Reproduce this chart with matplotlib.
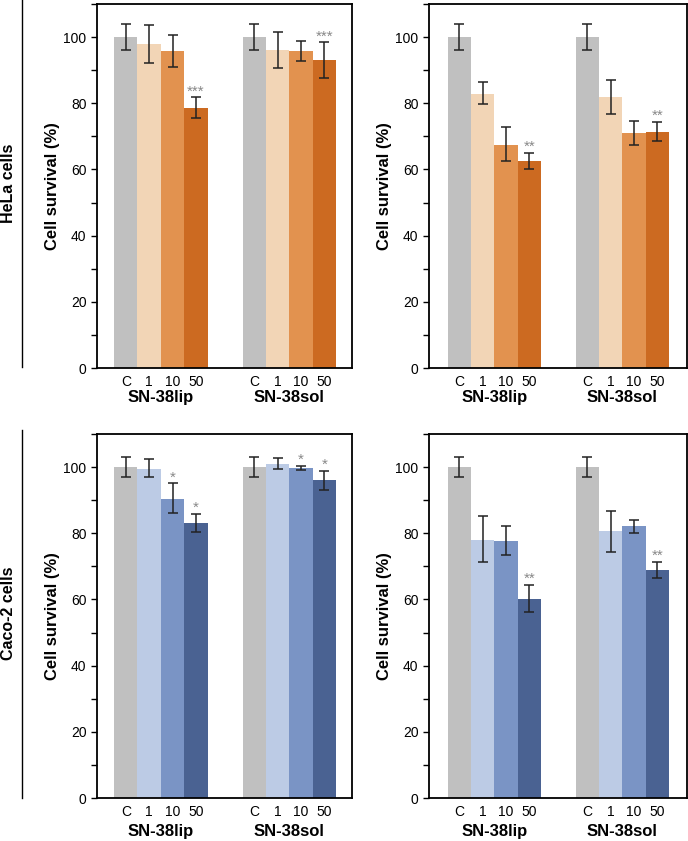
import matplotlib
matplotlib.use("Agg")
import matplotlib.pyplot as plt
from matplotlib.ticker import MultipleLocator

plt.rcParams['font.family'] = ['Liberation Sans', 'DejaVu Sans']

doses = ["C", "1", "10", "50"]
groups = ["SN-38lip", "SN-38sol"]

# HeLa, left panel
hela_a_lip = [100, 97.9, 95.8, 78.7]
hela_a_lip_lo = [96.0, 92.3, 90.9, 75.7]
hela_a_lip_hi = [104.1, 103.6, 100.7, 81.8]
hela_a_sol = [100, 96.0, 95.8, 93.0]
hela_a_sol_lo = [96.0, 90.6, 92.7, 87.5]
hela_a_sol_hi = [104.1, 101.5, 98.9, 98.4]
hela_a_stars = ["", "", "", "***", "", "", "", "***"]

# HeLa, right panel
hela_b_lip = [100, 82.9, 67.5, 62.6]
hela_b_lip_lo = [96.0, 79.7, 62.5, 60.2]
hela_b_lip_hi = [104.1, 86.3, 72.7, 65.0]
hela_b_sol = [100, 81.8, 71.1, 71.4]
hela_b_sol_lo = [96.0, 76.7, 67.5, 68.5]
hela_b_sol_hi = [104.1, 87.1, 74.8, 74.5]
hela_b_stars = ["", "", "", "**", "", "", "", "**"]

# Caco-2, left panel
caco_a_lip = [100, 99.5, 90.4, 83.1]
caco_a_lip_lo = [97.1, 96.9, 86.0, 80.4]
caco_a_lip_hi = [103.1, 102.6, 95.1, 85.8]
caco_a_sol = [100, 101.0, 99.6, 96.0]
caco_a_sol_lo = [97.1, 99.4, 99.0, 93.0]
caco_a_sol_hi = [103.1, 102.8, 100.4, 98.9]
caco_a_stars = ["", "", "*", "*", "", "", "*", "*"]

# Caco-2, right panel
caco_b_lip = [100, 78.1, 77.7, 60.2]
caco_b_lip_lo = [97.1, 71.4, 73.3, 56.1]
caco_b_lip_hi = [103.1, 85.1, 82.2, 64.5]
caco_b_sol = [100, 80.6, 82.1, 68.8]
caco_b_sol_lo = [97.1, 74.5, 80.2, 66.4]
caco_b_sol_hi = [103.1, 86.7, 84.0, 71.4]
caco_b_stars = ["", "", "", "**", "", "", "", "**"]

orange = ["#c0c0c0", "#f2d5b6", "#e2924f", "#cc6a21"]
blue = ["#c0c0c0", "#bccbe5", "#7a94c5", "#4a6292"]

fig = plt.figure(figsize=(6.88, 8.41), dpi=100)

def panel(rect, lip, lip_lo, lip_hi, sol, sol_lo, sol_hi, stars, colors,
          group_y, xlim):
    ax = fig.add_axes(rect)
    x_lip = [0, 1, 2, 3]
    x_sol = [5.5, 6.5, 7.5, 8.5]
    xs = x_lip + x_sol
    vals = lip + sol
    lo = lip_lo + sol_lo
    hi = lip_hi + sol_hi
    cols = colors + colors
    ax.bar(xs, vals, width=1.0, color=cols, edgecolor='none', zorder=2)
    yerr = [[v - l for v, l in zip(vals, lo)], [h - v for v, h in zip(vals, hi)]]
    ax.errorbar(xs, vals, yerr=yerr, fmt='none', ecolor='#222222',
                elinewidth=1.1, capsize=3.5, capthick=1.1, zorder=3)
    for x, h, s in zip(xs, hi, stars):
        if s:
            ax.text(x, h - 0.3, s, ha='center', va='bottom', fontsize=11,
                    color='#888888')
    ax.set_ylim(0, 110)
    ax.set_xlim(*xlim)
    ax.yaxis.set_major_locator(MultipleLocator(20))
    ax.yaxis.set_minor_locator(MultipleLocator(10))
    ax.tick_params(axis='y', which='both', direction='out', length=4,
                   width=1.0, labelsize=10)
    ax.tick_params(axis='x', length=0, labelsize=10, pad=5)
    ax.set_xticks(xs)
    ax.set_xticklabels(doses + doses)
    for sp in ax.spines.values():
        sp.set_linewidth(1.3)
    ax.set_ylabel("Cell survival (%)", fontsize=12, fontweight='bold',
                  labelpad=2.5)
    for gx, g in zip([1.5, 7.0], groups):
        ax.text(gx, group_y, g, transform=ax.get_xaxis_transform(),
                ha='center', va='center', fontsize=12, fontweight='bold')
    return ax

top_b, top_h = 0.5624, 0.4328
bot_b, bot_h = 0.0511, 0.4328
xl_left = (-1.23, 9.69)
xl_right = (-1.3, 9.77)
panel([0.141, top_b, 0.371, top_h], hela_a_lip, hela_a_lip_lo, hela_a_lip_hi,
      hela_a_sol, hela_a_sol_lo, hela_a_sol_hi, hela_a_stars, orange,
      -0.080, xl_left)
panel([0.6235, top_b, 0.375, top_h], hela_b_lip, hela_b_lip_lo, hela_b_lip_hi,
      hela_b_sol, hela_b_sol_lo, hela_b_sol_hi, hela_b_stars, orange,
      -0.080, xl_right)
panel([0.141, bot_b, 0.371, bot_h], caco_a_lip, caco_a_lip_lo, caco_a_lip_hi,
      caco_a_sol, caco_a_sol_lo, caco_a_sol_hi, caco_a_stars, blue,
      -0.093, xl_left)
panel([0.6235, bot_b, 0.375, bot_h], caco_b_lip, caco_b_lip_lo, caco_b_lip_hi,
      caco_b_sol, caco_b_sol_lo, caco_b_sol_hi, caco_b_stars, blue,
      -0.093, xl_right)

# row separators and labels
fig.add_artist(plt.Line2D([22/688, 22/688], [1 - 367/841, 1.0],
                          color='black', lw=1.0))
fig.add_artist(plt.Line2D([22/688, 22/688], [1 - 798/841, 1 - 430/841],
                          color='black', lw=1.0))
fig.text(9/688, 1 - 183/841, "HeLa cells", rotation=90, ha='center',
         va='center', fontsize=11.5, fontweight='bold')
fig.text(9/688, 1 - 613/841, "Caco-2 cells", rotation=90, ha='center',
         va='center', fontsize=11.5, fontweight='bold')

fig.savefig("out.png", dpi=100)
